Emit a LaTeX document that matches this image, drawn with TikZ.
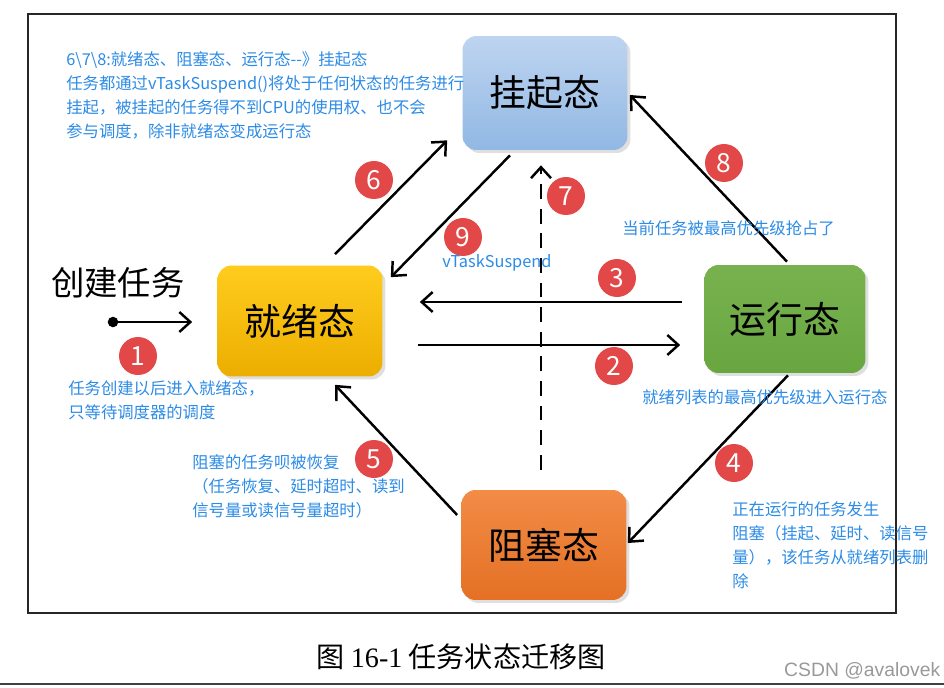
\documentclass[tikz,border=0pt]{standalone}
\usepackage{fontspec}
\setmainfont{Noto Sans CJK SC}
\newfontfamily\numfont{Liberation Serif}
\newfontfamily\markfont{Liberation Sans}
\usepackage{tikz}
\usetikzlibrary{arrows.meta,shadows}

\definecolor{noteblue}{RGB}{44,139,229}
\definecolor{badgered}{RGB}{226,72,72}

\begin{document}
\begin{tikzpicture}[x=0.02cm, y=-0.02cm,
  >={Straight Barb[length=2.2mm,width=4mm]},
  state/.style={rounded corners=0.28cm, minimum width=3.3cm, minimum height=2.2cm,
    font=\fontsize{21}{21}\selectfont,
    drop shadow={opacity=0.25, shadow xshift=0.06cm, shadow yshift=-0.06cm}},
  trans/.style={->, line width=1.4pt},
  badge/.style={circle, fill=badgered, text=white, minimum size=0.76cm, inner sep=0pt,
    font=\fontsize{15}{15}\selectfont},
  note/.style={text=noteblue, font=\fontsize{9.3}{13.8}\selectfont, align=left, inner sep=0pt}]
\useasboundingbox (0,0) rectangle (944,687);

\draw[line width=1pt, black!85] (28,14) rectangle (896,613);
\draw[line width=1.2pt, black!75] (0,684) -- (944,684);

\node[state, top color={rgb,255:red,190;green,212;blue,240}, bottom color={rgb,255:red,145;green,184;blue,228},
  minimum height=2.28cm] (suspended) at (545,93) {挂起态};
\node[state, top color={rgb,255:red,255;green,204;blue,30}, bottom color={rgb,255:red,236;green,174;blue,0},
  minimum height=2.22cm] (ready) at (300,321) {就绪态};
\node[state, top color={rgb,255:red,120;green,178;blue,78}, bottom color={rgb,255:red,104;green,166;blue,64},
  minimum width=3.22cm, minimum height=2.16cm] (running) at (785,319) {运行态};
\node[state, top color={rgb,255:red,242;green,140;blue,70}, bottom color={rgb,255:red,228;green,112;blue,36}]
  (blocked) at (544,545) {阻塞态};

\node[font=\fontsize{19}{19}\selectfont] (create) at (118,283) {创建任务};
\coordinate (born) at (113,322);
\fill (born) circle[radius=3pt];
\draw[trans] (born) -- ([shift={(-25,1)}]ready.west);

\draw[trans] ([shift={(35,-11)}]ready.north) -- ([shift={(-15,-10)}]suspended.south west);
\draw[trans] ([shift={(-35,5)}]suspended.south) -- ([shift={(8,12)}]ready.north east);
\draw[trans, dash pattern=on 8.5pt off 5.5pt] ([shift={(-3,-20)}]blocked.north) -- ([shift={(-4,15)}]suspended.south);
\draw[trans] ([shift={(2,-3)}]running.north) -- ([shift={(2,2)}]suspended.east);
\draw[trans] ([shift={(-22,-17)}]running.west) -- ([shift={(37,-19)}]ready.east);
\draw[trans] ([shift={(35,24)}]ready.east) -- ([shift={(-24,26)}]running.west);
\draw[trans] ([shift={(3,2)}]running.south) -- ([shift={(1,-2)}]blocked.east);
\draw[trans] ([shift={(-4,-30)}]blocked.west) -- ([shift={(35,8)}]ready.south);

\foreach \n/\x/\y in {1/138/356, 2/614/366, 3/617/278, 4/734/463, 5/374/459,
                      6/374/180, 7/566/196, 8/724/163, 9/463/237}
  \node[badge] (b\n) at (\x,\y) {\n};

\node[note, anchor=north west] (suspendnote) at (66,51)
  {6\textbackslash 7\textbackslash 8:就绪态、阻塞态、运行态-{}-》挂起态\\
   任务都通过vTaskSuspend()将处于任何状态的任务进行\\
   挂起，被挂起的任务得不到CPU的使用权、也不会\\
   参与调度，除非就绪态变成运行态};
\node[note, anchor=west] (preemptnote) at (622,228) {当前任务被最高优先级抢占了};
\node[note, anchor=west] (callnote) at (442,263) {vTaskSuspend};
\node[note, anchor=north west] (createnote) at (68,380)
  {任务创建以后进入就绪态，\\只等待调度器的调度};
\node[note, anchor=west] (schednote) at (642,397) {就绪列表的最高优先级进入运行态};
\node[note, anchor=north west] (resumenote) at (192,454)
  {阻塞的任务呗被恢复\\（任务恢复、延时超时、读到\\信号量或读信号量超时）};
\node[note, anchor=north west] (blocknote) at (732,501)
  {正在运行的任务发生\\阻塞（挂起、延时、读信号\\量），该任务从就绪列表删\\除};

\node[font=\fontsize{16}{16}\selectfont] (caption) at (461,657) {图 {\numfont 16-1} 任务状态迁移图};
\node[anchor=west, text=black!40, font=\markfont\fontsize{11}{11}\selectfont] (mark) at (778,671) {CSDN @avalovek};
\end{tikzpicture}
\end{document}
